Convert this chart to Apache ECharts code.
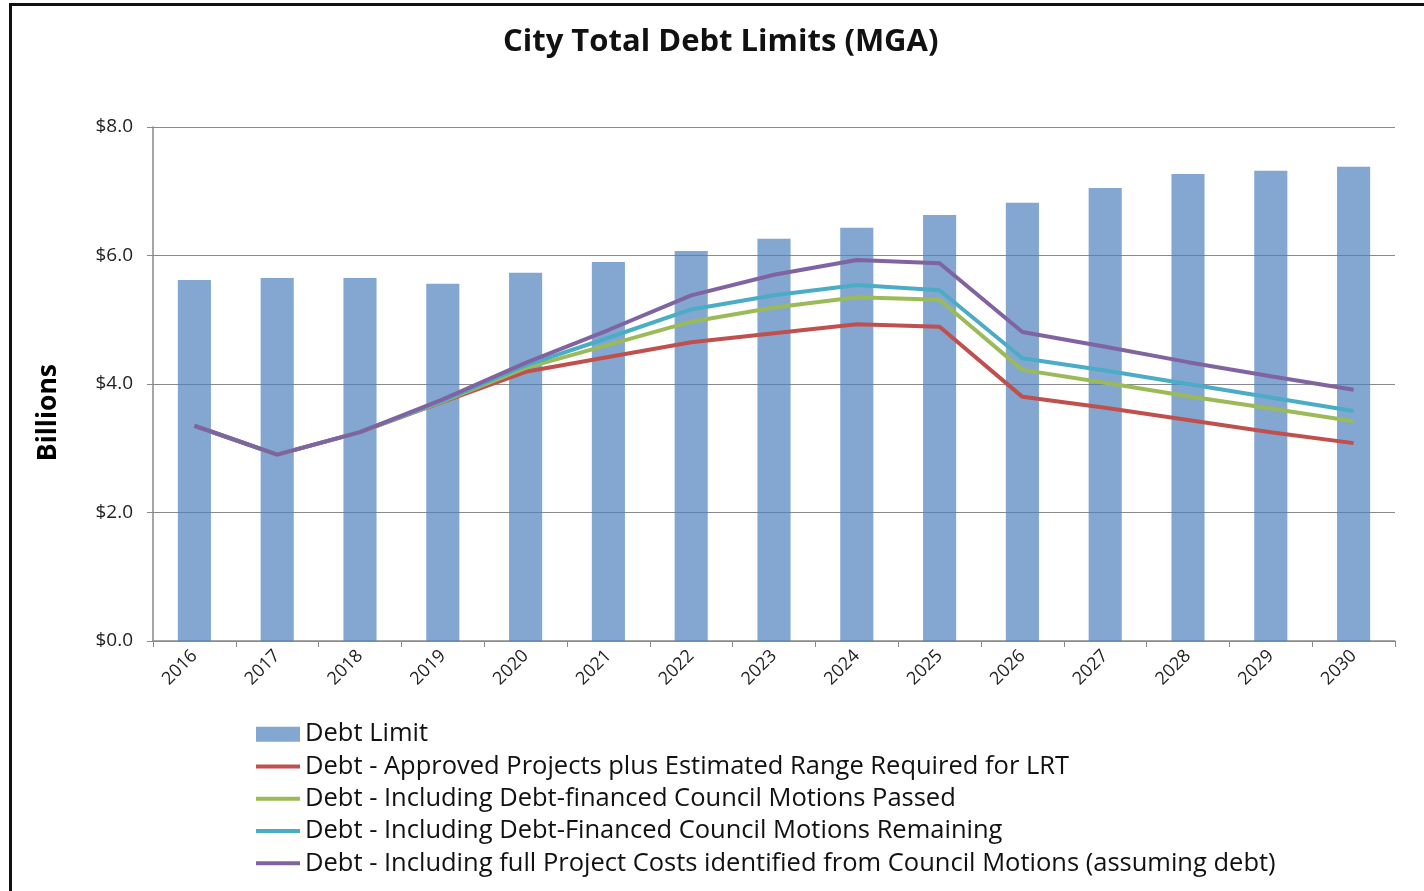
<!DOCTYPE html>
<html>
<head>
<meta charset="utf-8">
<script src="https://cdn.jsdelivr.net/npm/echarts@6/dist/echarts.min.js"></script>
<style>
    html, body { margin: 0; padding: 0; background: #fff; }
    #chart { width: 1424px; height: 891px; }
    #frame {
        position: absolute; left: 9px; top: 3px; width: 1420px; height: 900px;
        border-top: 3px solid #111; border-left: 3px solid #111; pointer-events: none;
    }
</style>
</head>
<body>
<div id="chart"></div>
<div id="frame"></div>
<script>
const years = ['2016', '2017', '2018', '2019', '2020', '2021', '2022', '2023', '2024', '2025', '2026', '2027', '2028', '2029', '2030']
const yTicks = ['$0.0', '$2.0', '$4.0', '$6.0', '$8.0']

const debtLimit = [5.62, 5.65, 5.65, 5.56, 5.73, 5.90, 6.07, 6.26, 6.43, 6.63, 6.82, 7.05, 7.27, 7.32, 7.38]
const approvedLrt = [3.35, 2.90, 3.25, 3.72, 4.19, 4.42, 4.65, 4.79, 4.93, 4.89, 3.80, 3.63, 3.44, 3.25, 3.08]
const motionsPassed = [3.35, 2.90, 3.25, 3.73, 4.25, 4.61, 4.97, 5.19, 5.35, 5.31, 4.22, 4.02, 3.81, 3.62, 3.42]
const motionsRemaining = [3.35, 2.90, 3.25, 3.74, 4.29, 4.72, 5.16, 5.38, 5.54, 5.46, 4.40, 4.21, 4.00, 3.79, 3.58]
const fullCosts = [3.35, 2.90, 3.25, 3.76, 4.33, 4.84, 5.38, 5.70, 5.93, 5.88, 4.81, 4.58, 4.34, 4.12, 3.91]

const seriesNames = [
    'Debt Limit',
    'Debt - Approved Projects plus Estimated Range Required for LRT',
    'Debt - Including Debt-financed Council Motions Passed',
    'Debt - Including Debt-Financed Council Motions Remaining',
    'Debt - Including full Project Costs identified from Council Motions (assuming debt)'
]
const lineColors = ['#C0504D', '#9BBB59', '#4BACC6', '#8064A2']
const lineData = [approvedLrt, motionsPassed, motionsRemaining, fullCosts]

const font = 'Open Sans'
// thin line for the legend, the M points keep the box at full icon size
const lineIcon = 'path://M0,0 M0,5.5 L44,5.5 L44,9.5 L0,9.5 Z M44,15'
let myChart = echarts.init(document.getElementById('chart'))

let lineSeries = lineData.map((d, i) => ({
    name: seriesNames[i + 1],
    type: 'line',
    data: d,
    symbol: 'none',
    z: 3 + i,
    lineStyle: {color: lineColors[i], width: 4},
    itemStyle: {color: lineColors[i]}
}))

myChart.setOption({
    animation: false,
    title: {
        text: 'City Total Debt Limits (MGA)',
        left: 498, top: 22,
        textStyle: {fontFamily: font, fontSize: 31, fontWeight: 'bold', color: '#111'}
    },
    graphic: [{
        type: 'text', left: 35, top: 364, rotation: Math.PI / 2,
        style: {text: 'Billions', font: 'bold 26.5px ' + font, fill: '#000'}
    }],
    legend: {
        orient: 'vertical', left: 251, top: 713,
        itemWidth: 44, itemHeight: 15, itemGap: 0,
        textStyle: {fontFamily: font, fontSize: 25.5, color: '#111', lineHeight: 32.3},
        data: seriesNames.map((n, i) => ({name: n, icon: i === 0 ? 'rect' : lineIcon}))
    },
    grid: {left: 153, right: 29, top: 127, bottom: 250},
    xAxis: {
        type: 'category', data: years,
        axisLine: {lineStyle: {color: '#8a8a8a', width: 1.5}},
        axisTick: {show: true, length: 6, lineStyle: {color: '#8a8a8a'}},
        axisLabel: {rotate: 45, margin: 12, fontFamily: font, fontSize: 18, color: '#222'}
    },
    yAxis: {
        type: 'value', min: 0, max: 8, interval: 2,
        axisLine: {show: true, lineStyle: {color: '#8a8a8a', width: 1.5}},
        axisTick: {show: true, length: 6, lineStyle: {color: '#8a8a8a'}},
        splitLine: {lineStyle: {color: '#8a8a8a', width: 1.2}},
        axisLabel: {margin: 20, fontFamily: font, fontSize: 19, color: '#222',
            formatter: (v) => yTicks[Math.round(v / 2)]}
    },
    series: [{
        name: seriesNames[0],
        type: 'bar',
        data: debtLimit,
        barWidth: '40%',
        z: 1,
        itemStyle: {color: 'rgba(79,129,189,0.7)'}
    }].concat(lineSeries)
})
</script>
</body>
</html>
